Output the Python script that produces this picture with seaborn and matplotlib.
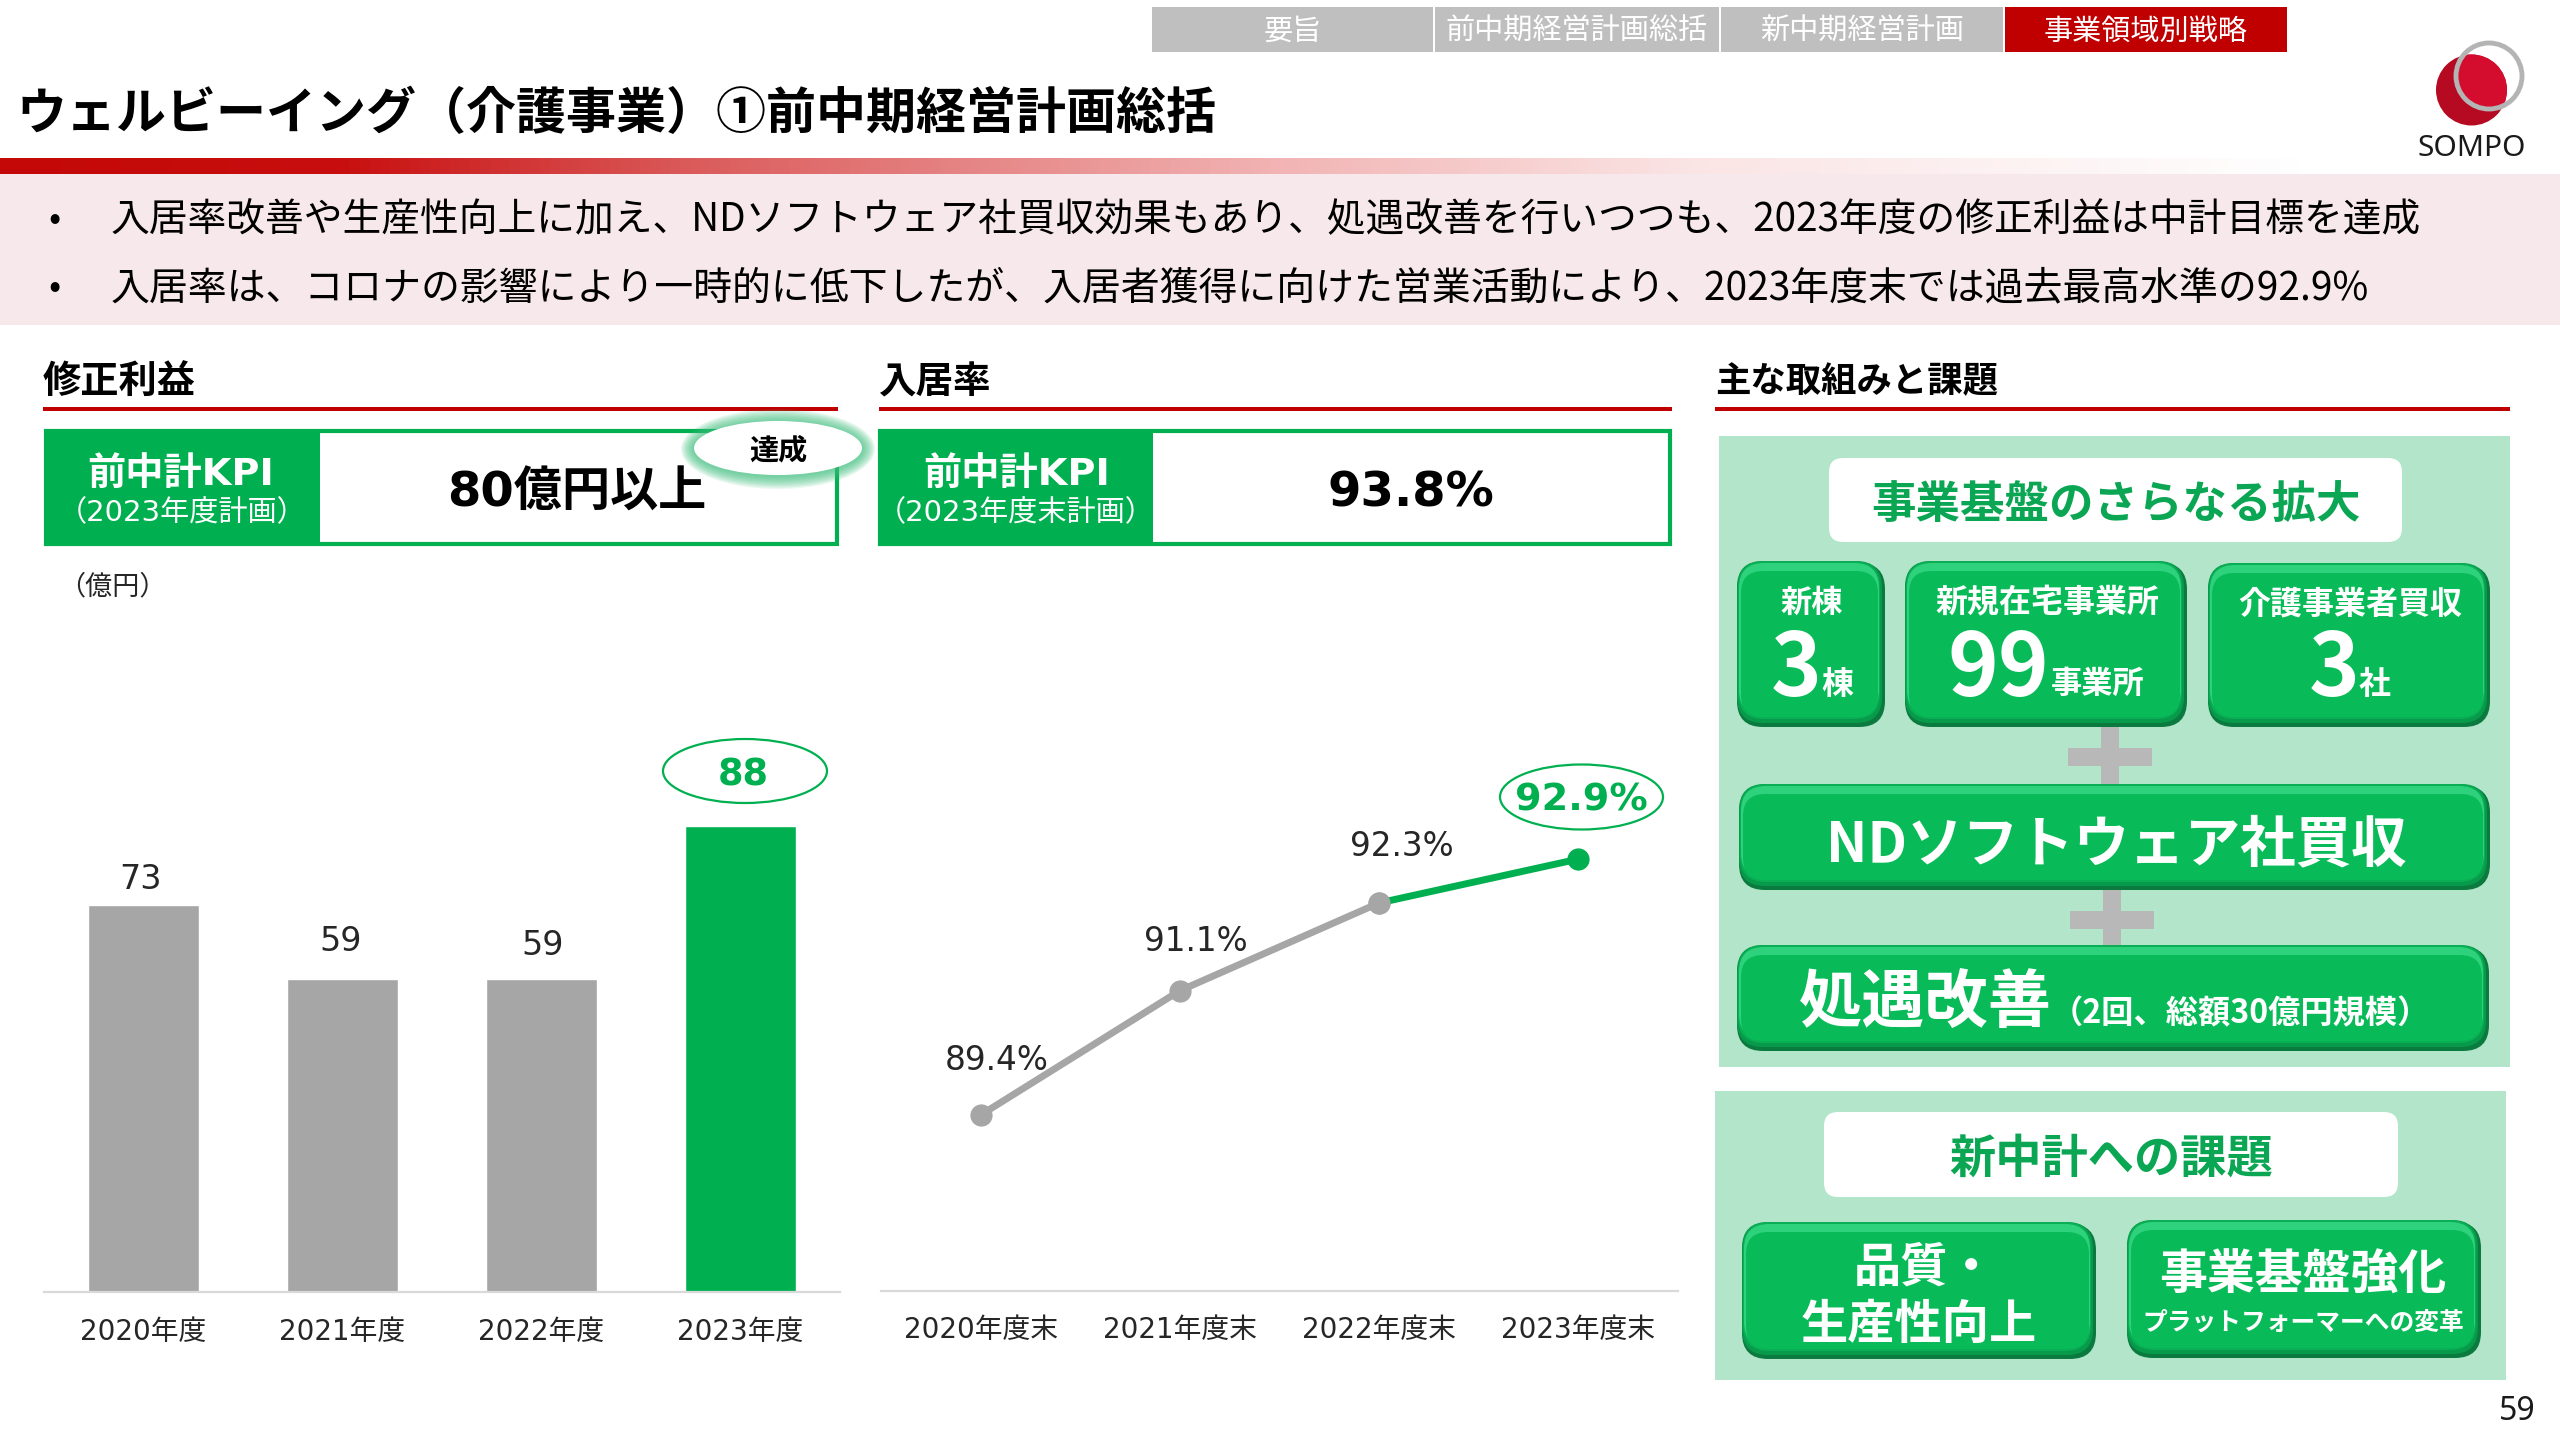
import numpy as np
import pandas as pd
import matplotlib
matplotlib.use("Agg")
import matplotlib.pyplot as plt
from matplotlib.patches import Rectangle, FancyBboxPatch, Ellipse
from matplotlib.colors import LinearSegmentedColormap
import seaborn as sns

# ---- data ----
profit_years = ["2020年度", "2021年度", "2022年度", "2023年度"]
profit_values = [73, 59, 59, 88]
profit_labels = ["73", "59", "59", "88"]
occupancy_years = ["2020年度末", "2021年度末", "2022年度末", "2023年度末"]
occupancy_values = [89.4, 91.1, 92.3, 92.9]
occupancy_labels = ["89.4%", "91.1%", "92.3%", "92.9%"]
tabs = ["要旨", "前中期経営計画総括", "新中期経営計画", "事業領域別戦略"]
bullets = [
    "入居率改善や生産性向上に加え、NDソフトウェア社買収効果もあり、処遇改善を行いつつも、2023年度の修正利益は中計目標を達成",
    "入居率は、コロナの影響により一時的に低下したが、入居者獲得に向けた営業活動により、2023年度末では過去最高水準の92.9%",
]

GREEN = "#00B050"
GRAY = "#A6A6A6"
RED = "#C00000"
INK = "#262626"
CJK = "Noto Sans CJK JP"
MIXED = ["DejaVu Sans", CJK]

sns.set_theme(style="white", rc={"font.family": MIXED, "axes.unicode_minus": False})
fig = plt.figure(figsize=(25.6, 14.4), dpi=100, facecolor="white")

bg = fig.add_axes([0, 0, 1, 1], zorder=0)
grad = LinearSegmentedColormap.from_list(
    "g", [(0, "#C40808"), (0.13, "#C80E0E"), (0.27, "#DB5B5B"), (0.5, "#F2B4B4"), (0.66, "#FBE4E4"), (0.9, "#FFFFFF"), (1, "#FFFFFF")]
)
bg.imshow(np.linspace(0, 1, 1024).reshape(1, -1), cmap=grad, extent=(0, 2560, 174, 158), aspect="auto", zorder=1)
bg.set_xlim(0, 2560)
bg.set_ylim(1440, 0)
bg.axis("off")

top = fig.add_axes([0, 0, 1, 1], zorder=5)
top.set_xlim(0, 2560)
top.set_ylim(1440, 0)
top.axis("off")
top.patch.set_alpha(0)


def rect(a, x0, y0, x1, y1, **kw):
    a.add_patch(Rectangle((x0, y0), x1 - x0, y1 - y0, **kw))


def rbox(a, x0, y0, x1, y1, r, color, z=2):
    a.add_patch(FancyBboxPatch((x0 + r, y0 + r), x1 - x0 - 2 * r, y1 - y0 - 2 * r,
                               boxstyle=f"round,pad={r},rounding_size={r}", fc=color, ec="none", zorder=z))


def label(a, x, y, s, pt, color="black", weight="normal", family=CJK, ha="center", z=10):
    a.text(x, y + 3, s, fontsize=pt, color=color, fontweight=weight, family=family, ha=ha, va="center", zorder=z)


def button(x0, y0, x1, y1):
    r = 26
    rbox(bg, x0, y0 + 2, x1, y1, r, "#0B7A3E", 3)
    rbox(bg, x0, y0, x1 - 3, y1 - 4, r, "#089A4B", 3)
    rbox(bg, x0 + 1, y0, x1 - 5, y1 - 8, r, "#0AAE54", 3)
    rbox(bg, x0 + 2, y0 + 2, x1 - 6, y1 - 12, r - 1, "#2FD27C", 3)
    rbox(bg, x0 + 4, y0 + 10, x1 - 7, y1 - 10, r - 4, "#08BB58", 3)


# tabs
tab_edges = [(1152, 1433), (1435, 1719), (1721, 2003), (2005, 2287)]
for i, ((x0, x1), t) in enumerate(zip(tab_edges, tabs)):
    rect(bg, x0, 7, x1, 52, fc=RED if i == 3 else "#BFBFBF", ec="none", zorder=2)
    label(bg, (x0 + x1) / 2, 28.5, t, 21, "white")

# title band
label(bg, 17, 112, "ウェルビーイング（介護事業）①前中期経営計画総括", 36, "black", "bold", ha="left")
rect(bg, 0, 174, 2560, 325, fc="#F7E9EB", ec="none", zorder=1)
for yy, b, pt in zip((217, 285), bullets, (27.9, 28.0)):
    label(bg, 55, yy, "•", 26, ha="center")
    label(bg, 111, yy, b, pt, ha="left")

# logo
logo_red = Ellipse((2471.5, 90), 71, 71, fc="#B50A22", ec="none", zorder=3)
bg.add_patch(logo_red)
logo_bright = Ellipse((2471.5, 90), 71, 71, fc="#D40C2E", ec="none", zorder=3)
bg.add_patch(logo_bright)
logo_clip = Ellipse((2489, 76), 64, 64, fc="none", ec="none", zorder=3)
bg.add_patch(logo_clip)
logo_bright.set_clip_path(logo_clip)
bg.add_patch(Ellipse((2489, 76), 66, 66, fc="none", ec="#B4B4B4", lw=3.5, zorder=4))
label(bg, 2472, 146, "SOMPO", 21.5, "#1a1a1a", family="Noto Sans")

# section headers
for x0, x1, s, pt in [(43, 838, "修正利益", 27.5), (879, 1672, "入居率", 27), (1715, 2510, "主な取組みと課題", 25.5)]:
    label(bg, x0, 379, s, pt, "black", "bold", ha="left")
    rect(bg, x0, 406.5, x1, 411, fc=RED, ec="none", zorder=2)

# KPI boxes
for x0, xm, x1, sub, val, vx in [
    (44, 320, 839, "（2023年度計画）", "80億円以上", 577),
    (878, 1153, 1672, "（2023年度末計画）", "93.8%", 1411),
]:
    rect(bg, x0 + 2, 431, x1 - 2, 544, fc="white", ec=GREEN, lw=3, zorder=2)
    rect(bg, x0, 429, xm, 546, fc=GREEN, ec="none", zorder=3)
    label(bg, (x0 + xm) / 2 + (-1 if x0 < 100 else 1), 472, "前中計KPI", 27.5, "white", "bold", family=MIXED)
    label(bg, (x0 + xm) / 2, 510, sub, 21, "white", family=MIXED)
    label(bg, vx, 490, val, 34.7, "black", "bold", family=MIXED)

# glowing "achieved" badge
for k in range(10, 0, -1):
    top.add_patch(Ellipse((778, 449), 168 + 2.6 * k, 54 + 2.6 * k, fc="#3FC07E", ec="none", alpha=0.11, zorder=2))
top.add_patch(Ellipse((778, 448), 168, 54, fc="white", ec="none", zorder=3))
label(top, 778, 447, "達成", 21, "black", "bold")
label(bg, 112, 584, "（億円）", 19.5, INK)

# ---- bar chart ----
ax1 = fig.add_axes([44 / 2560, 1 - 1292 / 1440, 796 / 2560, 583 / 1440], zorder=2)
df1 = pd.DataFrame({"year": profit_years, "value": profit_values})
sns.barplot(data=df1, x="year", y="value", hue="year", palette=[GRAY, GRAY, GRAY, GREEN],
            width=0.558, saturation=1, legend=False, ax=ax1)
ax1.set_ylim(0, 110)
ax1.set_xlim(-0.5, 3.5)

# ---- line chart ----
ax2 = fig.add_axes([881 / 2560, 1 - 1290.5 / 1440, 797 / 2560, 585 / 1440], zorder=2)
df2 = pd.DataFrame({"pos": np.arange(len(occupancy_values)), "value": occupancy_values})
sns.lineplot(data=df2.iloc[:3], x="pos", y="value", color=GRAY, lw=5, marker="o", ms=16,
             markeredgewidth=0, errorbar=None, ax=ax2)
sns.lineplot(data=df2.iloc[2:], x="pos", y="value", color=GREEN, lw=5, errorbar=None, ax=ax2)
sns.scatterplot(data=df2.iloc[[2]], x="pos", y="value", color=GRAY, s=256, linewidth=0, zorder=5, ax=ax2)
sns.scatterplot(data=df2.iloc[[3]], x="pos", y="value", color=GREEN, s=256, linewidth=0, zorder=5, ax=ax2)
ax2.set_ylim(87, 95)
ax2.set_xlim(-0.5, 3.5)
ax2.set_xticks(df2["pos"], occupancy_years)

for ax in (ax1, ax2):
    ax.patch.set_alpha(0)
    sns.despine(ax=ax, left=True)
    ax.spines["bottom"].set_color("#D9D9D9")
    ax.spines["bottom"].set_linewidth(1.6)
    ax.set_xlabel("")
    ax.set_ylabel("")
    ax.set_yticks([])
    ax.tick_params(axis="x", length=0, pad=18.5, labelsize=20, labelcolor=INK)


def value_tag(ax, x, y, s, dx, dy, pt, color=INK, weight="normal"):
    ax.annotate(s, (x, y), xytext=(dx, dy), textcoords="offset pixels", ha="center", va="center",
                fontsize=pt, color=color, fontweight=weight, zorder=8)


bar_offsets = [(-3, 26), (-2, 38), (1, 34)]
for i, (dx, dy) in enumerate(bar_offsets):
    value_tag(ax1, i, profit_values[i], profit_labels[i], dx, dy, 24)
value_tag(ax1, 3, profit_values[3], profit_labels[3], 3, 51, 26.5, GREEN, "bold")

line_offsets = [(16, 54), (16, 49), (23, 56)]
for i, (dx, dy) in enumerate(line_offsets):
    value_tag(ax2, i, occupancy_values[i], occupancy_labels[i], dx, dy, 23.6)
value_tag(ax2, 3, occupancy_values[3], occupancy_labels[3], 3, 59, 27.5, GREEN, "bold")

top.add_patch(Ellipse((745, 771), 164, 64, fc="none", ec=GREEN, lw=1.6, zorder=3))
top.add_patch(Ellipse((1581.5, 797), 163, 65, fc="none", ec=GREEN, lw=1.6, zorder=3))

# ---- right panel ----
rect(bg, 1719, 436, 2510, 1067, fc="#B2E5CA", ec="none", zorder=1)
rect(bg, 1715, 1091, 2506, 1380, fc="#B2E5CA", ec="none", zorder=1)
rbox(bg, 1829, 458, 2402, 542, 14, "white")
label(bg, 2116, 502, "事業基盤のさらなる拡大", 32, "#0AA653", "bold")
rbox(bg, 1824, 1112, 2398, 1197, 14, "white")
label(bg, 2111, 1156, "新中計への課題", 33.3, "#0AA653", "bold")

# plus signs
for vx, vy0, vy1, hx0, hx1, hy0, hy1 in [
    (2101, 727, 785, 2068, 2152, 748, 766),
    (2103, 890, 946, 2070, 2154, 911, 929),
]:
    rect(bg, vx, vy0, vx + 18, vy1, fc="#B8B8B8", ec="none", zorder=2)
    rect(bg, hx0, hy0, hx1, hy1, fc="#B8B8B8", ec="none", zorder=2)

button(1737, 561, 1885, 727)
button(1905, 561, 2187, 727)
button(2208, 563, 2490, 727)
button(1739, 784, 2490, 890)
button(1737, 945, 2489, 1051)
button(1742, 1222, 2096, 1359)
button(2127, 1220, 2481, 1358)

W = "white"
label(bg, 1812, 600, "新棟", 22.5, W, "bold")
label(bg, 1796, 668, "3", 62, W, "bold")
label(bg, 1837, 682, "棟", 23, W, "bold")
label(bg, 2047, 600, "新規在宅事業所", 23, W, "bold")
label(bg, 1998, 668, "99", 62, W, "bold")
label(bg, 2098, 681, "事業所", 22.5, W, "bold")
label(bg, 2350, 601, "介護事業者買収", 23, W, "bold")
label(bg, 2334, 668, "3", 62, W, "bold")
label(bg, 2375, 682, "社", 23, W, "bold")
label(bg, 2116, 842, "NDソフトウェア社買収", 40, W, "bold")
label(bg, 1925, 1000, "処遇改善", 45.5, W, "bold")
label(bg, 2240, 1011, "（2回、総額30億円規模）", 23.2, W, "bold")
label(bg, 1925, 1265, "品質・", 34, W, "bold")
label(bg, 1919, 1322, "生産性向上", 34, W, "bold")
label(bg, 2303, 1272, "事業基盤強化", 34.5, W, "bold")
label(bg, 2303, 1320, "プラットフォーマーへの変革", 17.8, W, "bold")
label(bg, 2517, 1409, "59", 23, "#1a1a1a", family="Noto Sans")

fig.savefig("out.png", dpi=100, facecolor="white")
